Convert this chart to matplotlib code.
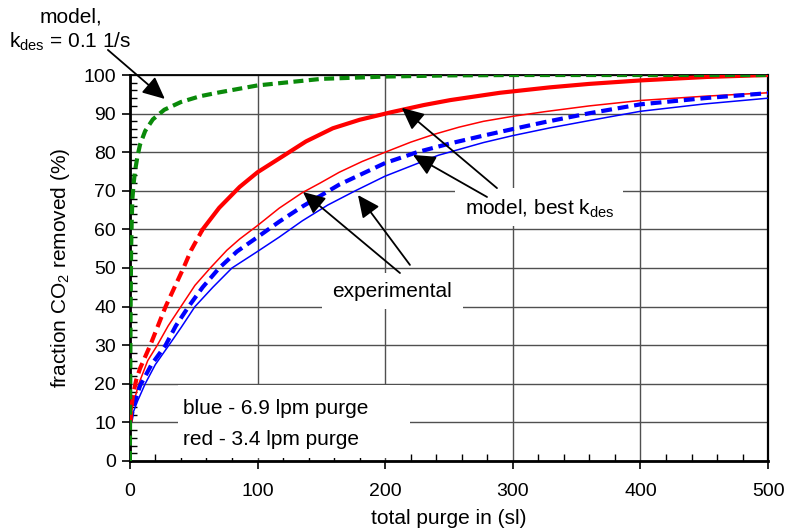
import matplotlib
matplotlib.use("Agg")
import matplotlib.pyplot as plt
from matplotlib.patches import Rectangle
from matplotlib.ticker import MultipleLocator

plt.rcParams['font.family'] = ['Liberation Sans', 'DejaVu Sans']
plt.rcParams['mathtext.fontset'] = 'custom'
plt.rcParams['mathtext.rm'] = 'Liberation Sans'
plt.rcParams['mathtext.it'] = 'Liberation Sans:italic'

# ---- data ----
green_model_x = [0, 0.3, 0.6, 1, 1.5, 2, 3, 4, 6, 8, 12, 18, 27, 40, 55, 70, 100, 150, 200, 250, 300, 400, 500]
green_model_y = [0, 20, 40, 55, 63, 68, 72, 75, 79, 82, 85.5, 88.5, 91, 93, 94.5, 95.5, 97.3, 99, 99.6, 99.9, 100, 100, 100]

red_model_x = [0.5, 1, 2.4, 5, 8, 16, 22, 28, 35, 42, 48, 57, 70, 86, 100, 120, 138, 159, 180, 204, 230, 251, 290, 329, 360, 400, 452, 500]
red_model_y = [10, 13, 17, 21, 24, 30, 35, 40, 45, 50, 54.6, 60, 65.6, 71, 74.8, 79, 82.8, 86.2, 88.4, 90.3, 92.2, 93.5, 95.4, 96.8, 97.7, 98.6, 99.5, 100]

red_exp_x = [0.5, 2, 7, 14, 21.5, 30, 40, 51, 63, 76, 86, 100, 117, 135, 149, 164, 182, 200, 220, 238, 258, 277, 300, 325, 360, 400, 450, 500]
red_exp_y = [10, 14, 20, 26, 30, 35, 40, 45.5, 50, 54.6, 57.5, 61, 65.5, 69.5, 72, 74.8, 77.6, 80, 82.6, 84.6, 86.5, 88, 89.3, 90.5, 92, 93.4, 94.5, 95.4]

blue_model_x = [0.5, 3, 8, 17, 28, 36, 46, 57, 70, 84, 100, 117, 135, 164, 200, 225, 250, 277, 300, 325, 360, 400, 450, 500]
blue_model_y = [10, 14.5, 19.5, 25, 30, 35, 40, 45, 50, 54.3, 58, 62, 65.9, 71.6, 77.2, 80, 82.2, 84.3, 86, 87.8, 90.1, 92.4, 94, 95.3]

blue_exp_x = [0.5, 2.4, 6, 12, 20, 30.6, 40, 51, 65, 80, 98.7, 117, 135, 155, 176.6, 200, 241.6, 277, 300, 329, 360, 400, 450, 500]
blue_exp_y = [10, 12.4, 15.5, 20, 25, 30, 34.5, 40, 45, 50, 54, 58, 62.2, 66.3, 70, 73.8, 79.2, 82.5, 84.3, 86.3, 88.2, 90.6, 92.5, 94]

red_dash_end = 11  # red model drawn dashed up to this point index, solid after

x_ticks = [0, 100, 200, 300, 400, 500]
y_ticks = [0, 10, 20, 30, 40, 50, 60, 70, 80, 90, 100]

# ---- figure ----
fig = plt.figure(figsize=(7.87, 5.32), dpi=100)
ax = fig.add_axes([0.165, 0.1335, 0.811, 0.7255])

RED = '#ff0000'
BLUE = '#0000ff'
GREEN = '#0a8a0a'

ax.plot(blue_exp_x, blue_exp_y, color=BLUE, lw=1.1, zorder=3)
ax.plot(red_exp_x, red_exp_y, color=RED, lw=1.1, zorder=3)
ax.plot(blue_model_x, blue_model_y, color=BLUE, lw=3.0, dashes=(2.6, 1.4), zorder=3)
ax.plot(red_model_x[:red_dash_end + 1], red_model_y[:red_dash_end + 1], color=RED, lw=3.0,
        dashes=(2.6, 1.4), zorder=3)
ax.plot(red_model_x[red_dash_end:], red_model_y[red_dash_end:], color=RED, lw=3.0, zorder=3)
ax.plot(green_model_x, green_model_y, color=GREEN, lw=3.0, dashes=(2.4, 1.3), zorder=4)

ax.set_xlim(0, 500)
ax.set_ylim(0, 100)
ax.set_xticks(x_ticks)
ax.set_yticks(y_ticks)
ax.xaxis.set_minor_locator(MultipleLocator(20))
ax.yaxis.set_minor_locator(MultipleLocator(2))
ax.tick_params(which='major', direction='out', length=6, width=1.2, labelsize=14, colors='black')
ax.tick_params(which='minor', direction='in', length=5, width=1.0)
ax.tick_params(axis='x', pad=10)
ax.tick_params(axis='y', pad=4)

ax.set_axisbelow(True)
ax.grid(True, which='major', color='#505050', lw=1.0)
for s in ['left', 'bottom']:
    ax.spines[s].set_linewidth(2.0)
    ax.spines[s].set_color('black')
ax.spines['top'].set_linewidth(1.3)
ax.spines['right'].set_linewidth(1.6)

ax.set_xlabel('total purge in (sl)', fontsize=15, labelpad=6)
ax.set_ylabel(r'fraction CO$_\mathregular{2}$ removed (%)', fontsize=15, labelpad=8)

# white boxes behind labels
ax.add_patch(Rectangle((254.7, 60.9), 131.7, 9.8, facecolor='white', edgecolor='none', zorder=1.5))
ax.add_patch(Rectangle((150.5, 39.5), 110.5, 9.3, facecolor='white', edgecolor='none', zorder=1.5))
ax.add_patch(Rectangle((37.6, 0.8), 181.8, 18.9, facecolor='white', edgecolor='none', zorder=1.5))

ax.text(321, 65.4, r'model, best k$_\mathregular{des}$', fontsize=15, ha='center', va='center', zorder=5)
ax.text(205, 43.8, 'experimental', fontsize=15, ha='center', va='center', zorder=5)
ax.text(42, 13.6, 'blue - 6.9 lpm purge', fontsize=15, ha='left', va='center', zorder=5)
ax.text(42, 5.6, 'red - 3.4 lpm purge', fontsize=15, ha='left', va='center', zorder=5)

fig.text(71 / 787, 1 - 17 / 532, 'model,', fontsize=15, ha='center', va='center')
fig.text(70 / 787, 1 - 42 / 532, r'k$_\mathregular{des}$ = 0.1 1/s', fontsize=15, ha='center', va='center')

arrow = dict(arrowstyle='-|>,head_length=0.75,head_width=0.35', color='black', lw=1.3,
             shrinkA=0, shrinkB=0, mutation_scale=18)
ax.annotate('', xy=(27.4, 93.8), xytext=(-17.2, 106.5), arrowprops=arrow, annotation_clip=False, zorder=6)
ax.annotate('', xy=(213, 91.5), xytext=(287.6, 70.7), arrowprops=arrow, zorder=6)
ax.annotate('', xy=(221.8, 79.3), xytext=(279.8, 68.4), arrowprops=arrow, zorder=6)
ax.annotate('', xy=(135.6, 69.7), xytext=(211.6, 48.7), arrowprops=arrow, zorder=6)
ax.annotate('', xy=(178.7, 68.9), xytext=(219.4, 50.8), arrowprops=arrow, zorder=6)

fig.savefig('out.png', dpi=100)
